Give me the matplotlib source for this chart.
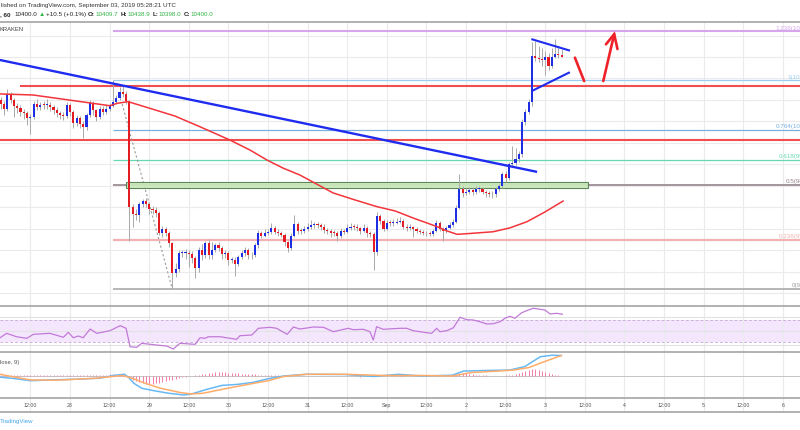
import numpy as np
import matplotlib
matplotlib.use("Agg")
import matplotlib.pyplot as plt
from matplotlib.patches import Rectangle

plt.rcParams['font.family'] = ['Liberation Sans', 'DejaVu Sans']

# ---------------- data (hourly candles, hour 0 = 28 Aug 00:00 UTC) ----------------
hours = np.arange(-21, 150)
first_open = 10200
closes = [
    10181, 10158, 10227, 10199, 10172, 10163, 10144, 10140, 10117, 10121,
    10181, 10167, 10176, 10175, 10178, 10167, 10153, 10140, 10130, 10126,
    10176, 10144, 10094, 10117, 10089, 10075, 10130, 10186, 10153, 10121,
    10158, 10144, 10160, 10172, 10190, 10209, 10236, 10227, 10195, 9702,
    9670, 9665, 9716, 9729, 9716, 9693, 9688, 9674, 9582, 9601,
    9582, 9532, 9394, 9412, 9486, 9486, 9488, 9481, 9463, 9417,
    9500, 9476, 9532, 9476, 9500, 9522, 9509, 9481, 9486, 9453,
    9455, 9435, 9467, 9486, 9500, 9476, 9478, 9522, 9578, 9568,
    9582, 9584, 9605, 9587, 9578, 9573, 9536, 9509, 9568, 9624,
    9591, 9590, 9601, 9610, 9619, 9620, 9618, 9610, 9596, 9591,
    9582, 9580, 9568, 9591, 9587, 9605, 9610, 9607, 9603, 9591,
    9605, 9578, 9575, 9490, 9660, 9637, 9601, 9628, 9626, 9629,
    9633, 9637, 9610, 9605, 9608, 9601, 9591, 9587, 9582, 9578,
    9576, 9591, 9628, 9601, 9591, 9605, 9619, 9633, 9697, 9785,
    9766, 9771, 9780, 9771, 9785, 9786, 9771, 9766, 9762, 9760,
    9785, 9798, 9854, 9835, 9900, 9904, 9923, 9946, 10098, 10144,
    10190, 10405, 10395, 10392, 10388, 10400, 10360, 10400, 10415, 10409.7, 10400]
highs = [
    10215, 10195, 10250, 10235, 10210, 10185, 10175, 10160, 10150, 10135,
    10195, 10205, 10190, 10195, 10205, 10190, 10175, 10165, 10150, 10145,
    10190, 10185, 10155, 10130, 10125, 10100, 10140, 10200, 10195, 10160,
    10170, 10170, 10175, 10185, 10291, 10225, 10260, 10270, 10240, 10200,
    9715, 9690, 9725, 9740, 9745, 9725, 9705, 9700, 9685, 9615,
    9610, 9590, 9540, 9440, 9500, 9500, 9505, 9500, 9495, 9475,
    9515, 9530, 9545, 9550, 9540, 9535, 9540, 9520, 9500, 9495,
    9470, 9470, 9480, 9500, 9515, 9510, 9490, 9535, 9595, 9590,
    9600, 9600, 9625, 9615, 9600, 9590, 9580, 9545, 9580, 9665,
    9630, 9605, 9615, 9625, 9640, 9630, 9630, 9625, 9620, 9605,
    9600, 9595, 9590, 9605, 9600, 9620, 9625, 9620, 9620, 9610,
    9620, 9615, 9590, 9585, 9680, 9670, 9645, 9640, 9640, 9645,
    9650, 9655, 9645, 9620, 9620, 9615, 9610, 9600, 9595, 9590,
    9590, 9600, 9640, 9635, 9610, 9615, 9630, 9645, 9710, 9853,
    9800, 9790, 9795, 9795, 9800, 9800, 9795, 9780, 9775, 9775,
    9795, 9810, 9865, 9870, 9910, 9985, 9975, 9960, 10110, 10160,
    10205, 10470, 10475, 10450, 10440, 10430, 10420, 10440, 10485, 10450, 10438.9]
lows = [
    10160, 10130, 10150, 10185, 10120, 10140, 10125, 10110, 10085, 10040,
    10110, 10155, 10155, 10160, 10160, 10150, 10135, 10120, 10110, 10105,
    10115, 10125, 10070, 10080, 10070, 10025, 10060, 10120, 10130, 10100,
    10110, 10130, 10135, 10150, 10165, 10180, 10200, 10215, 10180, 9545,
    9610, 9640, 9630, 9700, 9700, 9670, 9670, 9655, 9570, 9560,
    9565, 9515, 9319, 9375, 9400, 9470, 9460, 9420, 9440, 9370,
    9400, 9455, 9465, 9460, 9460, 9490, 9495, 9460, 9465, 9430,
    9440, 9380, 9425, 9460, 9475, 9460, 9460, 9470, 9510, 9555,
    9560, 9570, 9575, 9575, 9565, 9560, 9520, 9490, 9500, 9560,
    9575, 9575, 9580, 9590, 9600, 9605, 9605, 9595, 9580, 9575,
    9560, 9565, 9545, 9555, 9575, 9580, 9595, 9595, 9590, 9575,
    9585, 9560, 9560, 9407, 9480, 9620, 9590, 9595, 9615, 9615,
    9620, 9625, 9600, 9590, 9595, 9560, 9580, 9575, 9570, 9565,
    9565, 9565, 9585, 9590, 9545, 9580, 9600, 9610, 9625, 9690,
    9750, 9755, 9760, 9755, 9760, 9770, 9760, 9750, 9750, 9745,
    9750, 9775, 9790, 9820, 9825, 9890, 9895, 9910, 9935, 10085,
    10135, 10170, 10380, 10375, 10360, 10318, 10340, 10350, 10395, 10395, 10398]

# 100-period moving average
ma_h = [-21.2, -11.2, 6.1, 12.1, 14.2, 17.6, 24.2, 31.8, 39.4, 48.5, 54.5, 59.7, 64.5, 69.7,
        79.7, 86.4, 93.0, 98.5, 104.0, 111.2, 114.2, 117.3, 121.2, 128.2, 133.3, 138.5, 143.9, 149.4]
ma_v = [10228, 10223, 10186, 10173, 10184, 10192, 10161, 10125, 10075, 10013, 9967, 9920, 9883, 9850,
        9767, 9734, 9703, 9683, 9650, 9610, 9590, 9574, 9578, 9586, 9604, 9633, 9678, 9729]

# RSI
rsi_h = [-21.2, -19.2, -16.2, -13.1, -11.1, -6.1, -2.0, -0.5, 1.0, 2.5, 4.0, 6.1, 8.1, 12.1, 15.2,
         17.0, 18.2, 20.2, 21.7, 26.3, 29.3, 31.3, 33.3, 37.9, 39.4, 40.9, 41.9, 45.5, 50.5, 51.5,
         55.1, 57.1, 60.6, 62.6, 65.8, 67.7, 69.7, 73.7, 76.8, 79.8, 84.3, 85.8, 88.9, 90.9, 91.9,
         92.9, 94.9, 100.0, 102.0, 104.0, 108.1, 109.6, 111.1, 112.1, 114.2, 116.2, 118.2, 120.2,
         122.2, 124.2, 126.3, 128.3, 130.3, 131.8, 133.3, 134.8, 136.9, 138.4, 140.4, 143.9, 145.5,
         147.5, 149.2]
rsi_v = [38.3, 46.2, 40.1, 37.3, 44.4, 46.2, 39.1, 48.0, 38.3, 41.4, 38.3, 53.9, 46.2, 50.9, 59.9,
         55.2, 22.2, 21.1, 28.3, 25.2, 23.5, 18.1, 28.3, 26.5, 38.3, 37.3, 40.1, 40.1, 35.5, 41.9,
         43.2, 55.2, 57.0, 55.2, 44.4, 57.5, 53.9, 57.5, 57.0, 49.1, 55.2, 52.7, 53.4, 49.1, 34.2,
         58.1, 53.4, 55.2, 55.2, 50.9, 47.3, 46.2, 55.2, 49.1, 50.9, 56.3, 74.9, 70.6, 70.1, 67.0,
         62.9, 63.5, 67.0, 73.1, 76.7, 73.1, 83.2, 86.8, 91.1, 88.0, 80.9, 82.1, 80.3]

# MACD (12, 26, close, 9)
macd_h = [-21.2, -17.7, -11.9, -6.1, 2.0, 9.0, 13.6, 16.5, 17.7, 19.4, 21.8, 25.2, 29.9, 34.5, 36.8,
          41.5, 46.1, 50.8, 55.4, 60.1, 64.7, 71.7, 83.3, 92.0, 99.5, 106.5, 115.8, 119.3, 125.1,
          133.2, 137.8, 142.5, 146.0, 148.9]
macd_v = [-5, -9, -19, -16, -13, -9, 3, 7, -5, -30, -50, -59, -70, -77, -73, -54, -38, -34, -26, -11,
          0, 7, 6, -2, 7, 0, 3, 20, 22, 24, 38, 78, 84, 83]
sig_h = [-21.2, -16.6, -11.9, -3.8, 7.8, 15.9, 18.8, 22.9, 27.5, 33.4, 36.8, 40.3, 46.1, 53.1, 60.1,
         64.7, 71.7, 83.3, 94.9, 106.5, 115.8, 121.6, 129.7, 134.4, 139.0, 143.7, 148.9]
sig_v = [7, -5, -16, -17, -9, 2, -9, -30, -50, -67, -73, -70, -54, -36, -19, -2, 7, 7, 2, 2, 0, 14,
         20, 24, 34, 58, 83]
hist = [4, 4, 2, 2, 4, 4, 4, 6, 4, 4, 4, 6, 6, 4, 4, 4, 6, 6, 4, 4, 4,
        4, 4, 5, 5, 6, 6, 5, 5, 6, 6, 6, 6, 7, 7, 6, 5, 4, 2,
        -8, -16, -22, -26, -30, -32, -33, -32, -30, -28, -25, -22, -18, -15, -12, -9, -6, -4, -2,
        1, 3, 5, 7, 9, 11, 13, 15, 16, 16, 15, 14, 13, 12, 11, 10, 9, 8, 8, 7, 6, 6, 5, 4, 4, 3, 2, 1,
        1, 1, 0, -1, -1, 1, 1, 1, 1, 0, 0, -1, -1, 0, 1, 1, 1, 0, 0, -1, -1, -1, -2, -3, -2, -1, 1, 2,
        2, 2, 1, 1, 1, 1, 2, 2,
        2, 1, 1, 0, -1, -1, -1, -1, 0, 0, 1, 0, 0, 1, 1, 2, 6,
        10, 12, 12, 10, 8, 6, 4, 3, 2, 1, 1, 0, 0, 1, 2, 3,
        6, 10, 14, 18, 22, 26, 28, 28, 26, 22, 18, 14, 10, 6, 3, 1]

# Fibonacci retracement (swing high / swing low)
fib_high, fib_low = 10291, 9319
fib_start_h = 13
fib_levels = [0, 0.236, 0.5, 0.618, 0.764, 1, 1.236]
fib_names = ["0", "0.236", "0.5", "0.618", "0.764", "1", "1.236"]
fib_colors = ['#a3a3a3', '#f3b1b3', '#95838d', '#66d9ae', '#79b0df', '#9bcdee', '#d6a5ec']
fib_lw = [1.1, 1.6, 1.2, 0.9, 0.9, 0.9, 1.5]

# drawings
resist_levels = [10266, 10013]
resist_start_h = [-15.2, -22]
zone_h = (16.97, 156.97)
zone_p = (9788, 9819)
trend_h = [-21.21, 141.2]
trend_p = [10386, 9866]
tri_up_h, tri_up_p = [140.1, 151.2], [10482, 10431]
tri_lo_h, tri_lo_p = [140.4, 151.2], [10245, 10327]
dash_h, dash_p = [15.8, 31.0], [10181, 9319]
mark_h, mark_p = [153.0, 155.8], [10397, 10288]
arrow_h, arrow_p = [161.6, 164.9], [10288, 10506]
head_h, head_p = [162.4, 164.9, 165.9], [10459, 10506, 10437]

tick_hours = list(range(-12, 217, 12))
tick_labels = ["12:00", "28", "12:00", "29", "12:00", "30", "12:00", "31", "12:00", "Sep",
               "12:00", "2", "12:00", "3", "12:00", "4", "12:00", "5", "12:00", "6"]

# ---------------- figure ----------------
W, H = 800, 430
fig = plt.figure(figsize=(8, 4.3), dpi=100)
fig.patch.set_facecolor('white')


def fy(py):
    return 1 - py / H


XL = (-70 / 3.3, 730 / 3.3)
BORDER = '#a4a4a4'
GRID = '#ebebeb'


def mk_ax(top, bot):
    ax = fig.add_axes([0, fy(bot), 1, (bot - top) / H])
    ax.set_xlim(*XL)
    ax.set_xticks([]); ax.set_yticks([])
    for s in ['left', 'right', 'bottom']:
        ax.spines[s].set_visible(False)
    ax.spines['top'].set_color(BORDER)
    ax.spines['top'].set_linewidth(1.2)
    ax.set_facecolor('white')
    for th in tick_hours:
        ax.axvline(th, color=GRID, lw=0.8, zorder=0)
    return ax


ax_p = mk_ax(21.7, 305.7)
ax_r = mk_ax(305.7, 352.3)
ax_m = mk_ax(352.3, 398.3)
ax_t = mk_ax(398.3, 411.7)
ax_t.spines['bottom'].set_visible(True)
ax_t.spines['bottom'].set_color(BORDER)
ax_t.spines['bottom'].set_linewidth(1.2)

# ---------------- price panel ----------------
ax_p.set_ylim(9241.6, 10564.4)
for lvl in range(9300, 10600, 100):
    ax_p.axhline(lvl, color=GRID, lw=0.8, zorder=0)

closes_a = np.array(closes, dtype=float)
opens_a = np.concatenate([[first_open], closes_a[:-1]])
up = closes_a >= opens_a
ax_p.vlines(hours, lows, highs, color='#a9a9a9', lw=0.7, zorder=3)
body_bot = np.minimum(opens_a, closes_a)
body_h = np.maximum(np.abs(closes_a - opens_a), 4)
colors = np.where(up, '#1d2ee3', '#e31b22')
ax_p.bar(hours, body_h, bottom=body_bot, width=0.62, color=colors, lw=0, zorder=4)

ax_p.plot(ma_h, ma_v, color='#f2343b', lw=1.1, zorder=5)

for lv, nm, c, lw in zip(fib_levels, fib_names, fib_colors, fib_lw):
    pr = fib_low + lv * (fib_high - fib_low)
    ax_p.hlines(pr, fib_start_h, 260, color=c, lw=lw, zorder=2)
    ax_p.text(226.7, pr + 3, f"{nm}({pr:.1f})", color=c, fontsize=4.5,
              ha='right', va='bottom', zorder=6)

for rl, rs in zip(resist_levels, resist_start_h):
    ax_p.hlines(rl, rs, 260, color='#f03c3c', lw=1.5, alpha=0.9, zorder=2)

ax_p.add_patch(Rectangle((zone_h[0], zone_p[0]), zone_h[1] - zone_h[0], zone_p[1] - zone_p[0],
                         facecolor='#c9ebbb', edgecolor='#4e7a4a', lw=0.8, alpha=0.9, zorder=2.5))

ax_p.plot(trend_h, trend_p, color='#1f2cf0', lw=1.7, zorder=6)
ax_p.plot(tri_up_h, tri_up_p, color='#1f2cf0', lw=1.5, zorder=6)
ax_p.plot(tri_lo_h, tri_lo_p, color='#1f2cf0', lw=1.5, zorder=6)
ax_p.plot(dash_h, dash_p, color='#9c9c9c', lw=0.8, ls=(0, (2, 2)), zorder=2)
ax_p.plot(mark_h, mark_p, color='#ee2229', lw=1.9, zorder=6, solid_capstyle='round')
ax_p.plot(arrow_h, arrow_p, color='#ee2229', lw=1.9, zorder=6, solid_capstyle='round')
ax_p.plot(head_h, head_p, color='#ee2229', lw=1.9, zorder=6, solid_capstyle='round',
          solid_joinstyle='miter')

# ---------------- RSI panel ----------------
ax_r.set_ylim(12.2, 95.7)
ax_r.axhspan(30, 70, color='#f4e6fd', zorder=0.5, lw=0)
for g in (25, 50, 75):
    ax_r.axhline(g, color='#e2e2e2', lw=0.8, zorder=0.6)
for g in (30, 70):
    ax_r.axhline(g, color='#cdb3d8', lw=0.7, ls=(0, (3, 2)), zorder=0.7)
for th in tick_hours:
    ax_r.axvline(th, color=GRID, lw=0.8, zorder=0.55)
ax_r.plot(rsi_h, rsi_v, color='#c27ad8', lw=0.9, zorder=3)

# ---------------- MACD panel ----------------
ax_m.set_ylim(-90.4, 96)
ax_m.axhline(0, color='#c4c4c4', lw=0.7, zorder=1)
ax_m.vlines(hours, 0, hist, color='#f47ca8', lw=0.7, zorder=2)
ax_m.plot(macd_h, macd_v, color='#67b9f4', lw=1.1, zorder=3)
ax_m.plot(sig_h, sig_v, color='#ffac6a', lw=1.1, zorder=4)
ax_m.text(0.0, 0.77, "lose, 9)", transform=ax_m.transAxes, fontsize=4.2, color='#555555',
          ha='left', va='center')

# ---------------- time axis ----------------
ax_t.set_ylim(0, 1)
for th, lb in zip(tick_hours, tick_labels):
    ax_t.text(th, 0.45, lb, fontsize=3.8, color='#555555', ha='center', va='center')

# ---------------- header / footer text ----------------
fig.text(0.6 / W, fy(6), "lished on TradingView.com, September 03, 2019 05:28:21 UTC",
         fontsize=4.5, color='#333333', ha='left', va='center')

fig.canvas.draw()
renderer = fig.canvas.get_renderer()
segs = [(", 60", '#222222', 'bold', 3.5), ("10400.0", '#222222', 'normal', 1.8),
        ("\u25b2", '#2fb344', 'normal', 1.2), ("+10.5 (+0.1%)", '#222222', 'normal', 2.2),
        ("O:", '#222222', 'bold', 0.4), ("10409.7", '#2fb344', 'normal', 2.2),
        ("H:", '#222222', 'bold', 0.4), ("10438.9", '#2fb344', 'normal', 2.2),
        ("L:", '#222222', 'bold', 0.4), ("10398.0", '#2fb344', 'normal', 2.2),
        ("C:", '#222222', 'bold', 0.4), ("10400.0", '#2fb344', 'normal', 0.0)]
xpix = 0.0
for tx, col, wt, gap in segs:
    t = fig.text(xpix / W, fy(14.5), tx, fontsize=4.5, color=col, fontweight=wt,
                 ha='left', va='center')
    bb = t.get_window_extent(renderer=renderer)
    xpix = bb.x1 + gap

fig.text(0.0, fy(29.5), "KRAKEN", fontsize=4.2, color='#444444', ha='left', va='center')
fig.text(0.0, fy(422), "TradingView", fontsize=4.4, color='#45a6ea', ha='left', va='center')

fig.savefig("out.png", dpi=100, facecolor='white')
